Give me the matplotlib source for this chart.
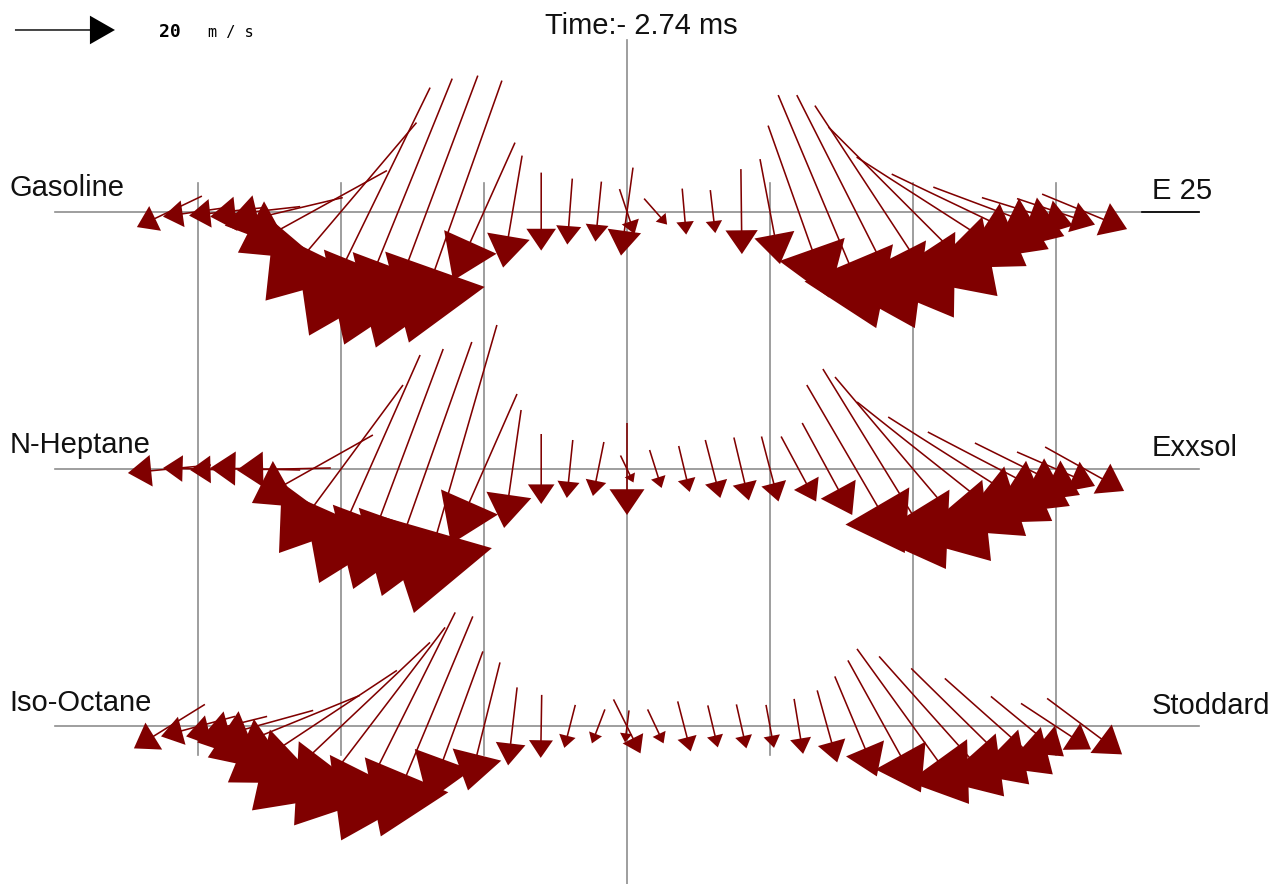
import numpy as np
import matplotlib
matplotlib.use("Agg")
import matplotlib.pyplot as plt

# measurement positions along each line (mm); the centre point is measured twice
xs = [-3.2, -3.0, -2.8, -2.6, -2.4, -2.2, -2.0, -1.8, -1.6, -1.4, -1.2, -1.0, -0.8, -0.6, -0.4, -0.2,
      0.0, 0.0,
      0.2, 0.4, 0.6, 0.8, 1.0, 1.2, 1.4, 1.6, 1.8, 2.0, 2.2, 2.4, 2.6, 2.8, 3.0, 3.2]

rows = [1.8, 0.0, -1.8]
left_labels = ["Gasoline", "N-Heptane", "Iso-Octane"]
right_labels = ["E 25", "Exxsol", "Stoddard"]

# velocities in m/s
u_gas = [-13.0, -14.0, -15.0, -18.0, -23.6, -29.8, -30.2, -24.2, -21.6, -20.4, -18.6, -12.4, -3.8, 0.0, -1.0, -1.2,
         -2.4, 3.0,
         4.6, 0.8, 1.0, 0.2, 4.0, 12.2, 19.6, 23.6, 27.8, 33.8, 34.0, 31.4, 26.2, 18.2, 15.6, 17.0]
v_gas = [-6.2, -2.0, -1.6, -2.0, -5.6, -16.4, -35.6, -49.6, -53.2, -54.4, -52.4, -27.6, -22.4, -15.6, -13.2, -12.0,
         -17.6, -9.0,
         -5.2, -9.2, -8.6, -17.0, -21.0, -34.4, -46.6, -46.6, -42.4, -33.8, -21.8, -15.0, -9.8, -5.6, -5.2, -7.0]

u_hep = [-16.6, -14.0, -14.6, -18.0, -18.8, -24.2, -24.8, -20.2, -18.0, -18.0, -16.6, -13.2, -3.4, 0.0, -1.2, -2.2,
         0.0, 2.6,
         2.4, 2.2, 3.0, 3.0, 3.4, 7.0, 10.0, 19.6, 24.6, 31.2, 33.8, 32.8, 28.4, 21.0, 15.6, 15.8]
v_hep = [-1.6, 0.4, -0.4, 0.4, -0.4, -13.6, -33.6, -45.6, -48.0, -50.8, -57.6, -30.0, -23.6, -14.0, -11.6, -10.8,
         -18.4, -5.4,
         -7.6, -9.2, -11.6, -12.6, -13.0, -13.0, -18.4, -33.6, -40.0, -36.8, -26.8, -20.8, -14.8, -10.4, -6.8, -8.8]

u_iso = [-14.2, -14.8, -16.2, -23.2, -30.4, -33.8, -35.6, -30.2, -22.8, -18.4, -11.0, -6.4, -1.8, -0.2, -2.2, -2.6,
         -0.8, 5.4,
         3.2, 2.6, 2.0, 2.0, 1.6, 1.8, 4.0, 8.4, 14.6, 22.4, 25.0, 23.6, 21.6, 14.6, 14.0, 15.0]
v_iso = [-8.8, -4.0, -4.0, -6.4, -12.4, -22.4, -33.6, -39.6, -45.6, -44.0, -30.0, -25.6, -15.6, -12.6, -8.6, -6.8,
         -6.4, -10.8,
         -6.8, -10.0, -8.4, -8.8, -8.6, -11.0, -14.4, -20.0, -26.4, -31.0, -28.0, -23.2, -19.2, -12.0, -9.2, -11.2]

ref_speed = 20  # m/s
time_label = "Time:- 2.74 ms"

us = [u_gas, u_hep, u_iso]
vs = [v_gas, v_hep, v_iso]

scale = 5 / 143  # data units per m/s
red = "#800000"
grey = "#8e8e8e"

fig = plt.figure(figsize=(12.83, 8.84), dpi=100)
ax = fig.add_axes([0, 0, 1, 1])
ax.set_xlim(-627 / 143, 656 / 143)
ax.set_ylim(-415 / 143, 469 / 143)
ax.set_aspect("equal")
ax.axis("off")

# grid lines
for gx in [-3, -2, -1, 1, 2, 3]:
    ax.plot([gx, gx], [-2.0, 2.0], color=grey, lw=1.2, zorder=1)
ax.plot([0, 0], [-3.2, 3.0], color=grey, lw=1.2, zorder=1)
for ry in rows:
    ax.plot([-4, 4], [ry, ry], color=grey, lw=1.2, zorder=1)
ax.plot([3.6, 4.0], [rows[0], rows[0]], color="black", lw=1.2, zorder=1)

font = ["Liberation Sans", "DejaVu Sans"]
for ry, lt, rt in zip(rows, left_labels, right_labels):
    ax.text(-4.32, ry + 0.11, lt, fontsize=21, family=font, color="#111111", va="baseline", ha="left")
    ax.text(3.67, ry + 0.09, rt, fontsize=21, family=font, color="#111111", va="baseline", ha="left")

ax.text(-0.575, 3.04, time_label, fontsize=21, family=font, color="#111111", va="baseline", ha="left")

# vectors, pivot in the middle on the line
for ry, uu, vv in zip(rows, us, vs):
    for x0, u, v in zip(xs, uu, vv):
        dx = u * scale
        dy = v * scale
        L = np.hypot(dx, dy)
        ax.arrow(x0 - dx / 2, ry - dy / 2, dx, dy, width=0.011,
                 head_width=0.38 * L, head_length=0.28 * L,
                 length_includes_head=True, color=red, lw=0, zorder=3)

# reference arrow
rl = ref_speed * scale
ax.arrow(-4.28, 3.07, rl, 0, width=0.01, head_width=0.2, head_length=0.175,
         length_includes_head=True, color="black", lw=0, zorder=3)
ax.text(-3.27, 3.02, str(ref_speed), fontsize=13, family="DejaVu Sans Mono", weight="bold",
        va="baseline", ha="left")
ax.text(-2.93, 3.02, "m / s", fontsize=11, family="DejaVu Sans Mono", va="baseline", ha="left")

fig.savefig("out.png", dpi=100)
plt.close(fig)
